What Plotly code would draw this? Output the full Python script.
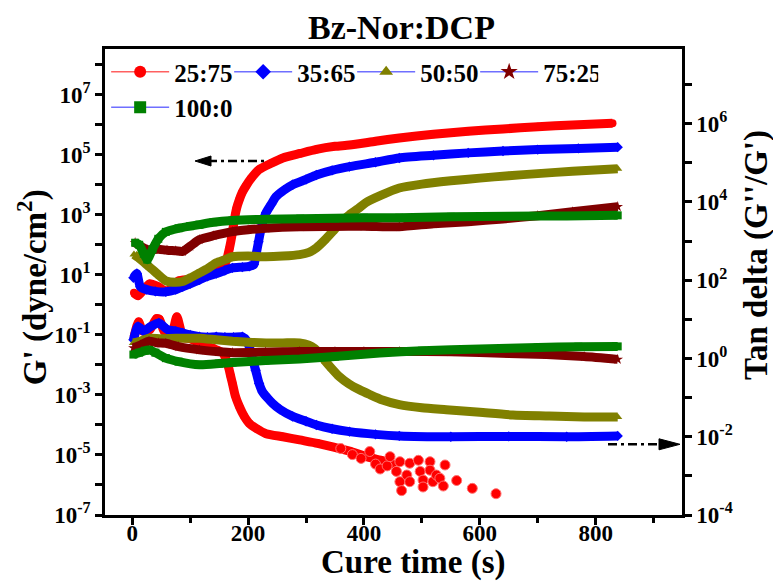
import plotly.graph_objects as go

# ---------------- data ----------------
# G' (left axis, dyne/cm^2)
t_gp_2575 = [3, 10, 20, 30, 45, 60, 80, 100, 120, 140, 155, 163, 168, 172, 176, 180, 185, 190, 196, 205,
             219, 240, 260, 290, 318, 350, 375, 420, 461, 520, 580, 640, 700, 760, 829]
gp_2575 = [2.5, 2.0, 3.2, 5.0, 4.0, 2.8, 6.3, 7.1, 8.9, 11, 16, 32, 79, 200, 630, 1600, 3200, 5600, 8900, 1.6e4,
           3.2e4, 5.2e4, 7.8e4, 1.1e5, 1.5e5, 1.9e5, 2.1e5, 2.8e5, 3.6e5, 4.8e5, 6.0e5, 7.2e5, 8.5e5, 9.8e5, 1.12e6]

t_gp_3565 = [2, 8, 14, 25, 40, 58, 75, 87, 100, 116, 130, 145, 160, 173, 190, 202, 210, 214, 218, 222, 226, 231,
             240, 248, 262, 277, 300, 318, 345, 375, 420, 461, 520, 580, 640, 700, 770, 838]
gp_3565 = [7.9, 11, 4.0, 3.2, 2.8, 2.7, 3.2, 4.0, 5.0, 6.8, 8.9, 11, 14, 17, 18, 19, 22, 50, 126, 316, 631, 1175,
           2240, 3980, 6610, 1.0e4, 1.5e4, 2.1e4, 3.0e4, 4.0e4, 5.6e4, 7.8e4, 9.5e4, 1.15e5, 1.32e5, 1.48e5, 1.62e5, 1.78e5]

t_gp_5050 = [3, 15, 30, 45, 58, 75, 87, 100, 116, 130, 145, 160, 173, 200, 231, 260, 289, 305, 318, 332, 346, 360,
             375, 390, 403, 430, 461, 500, 550, 600, 650, 700, 760, 838]
gp_5050 = [47, 32, 18, 10, 6.3, 5.6, 6.0, 7.9, 11.5, 16, 25, 32, 40, 42, 40, 42, 47, 56, 79, 141, 275, 562,
           1000, 1585, 2512, 4467, 7762, 1.05e4, 1.35e4, 1.66e4, 2.0e4, 2.34e4, 2.82e4, 3.39e4]

t_gp_7525 = [5, 15, 27, 45, 60, 75, 87, 100, 116, 140, 173, 200, 231, 290, 346, 400, 461, 520, 580, 640, 700, 760, 838]
gp_7525 = [117, 89, 68, 71, 66, 63, 60, 89, 148, 200, 275, 316, 355, 398, 407, 417, 400, 500, 589, 724, 933, 1259, 1862]

t_gp_1000 = [5, 12, 20, 26, 35, 45, 58, 80, 100, 116, 140, 173, 230, 290, 350, 400, 461, 550, 650, 750, 838]
gp_1000 = [117, 100, 50, 32, 71, 158, 269, 355, 417, 468, 562, 646, 708, 741, 759, 794, 794, 851, 891, 912, 955]

# Tan delta (right axis)
t_td_2575 = [3, 11, 18, 30, 42, 47, 55, 68, 77, 88, 100, 116, 140, 156, 162, 166, 170, 173, 178, 185, 193, 202,
             215, 231, 260, 289, 320, 346, 375, 404, 430, 450]
td_2575 = [3.5, 8.7, 5.0, 5.4, 10.5, 10.0, 5.0, 4.2, 11.7, 3.5, 3.2, 2.5, 1.8, 1.4, 0.95, 0.62, 0.35, 0.23, 0.11,
           0.059, 0.034, 0.022, 0.016, 0.012, 0.010, 0.0083, 0.0068, 0.0055, 0.0043, 0.0031, 0.0025, 0.0020]
t_td_2575_tail = [360, 380, 395, 410, 420, 428, 440, 445, 456, 462, 462, 465, 474, 479, 479, 494, 497, 502, 502,
                  514, 514, 519, 525, 531, 537, 540, 560, 587, 628]
td_2575_tail = [0.005, 0.0035, 0.0028, 0.0042, 0.002, 0.0015, 0.0018, 0.0031, 0.0013, 0.0023, 0.00071, 0.00042,
                0.00105, 0.0021, 0.00071, 0.0025, 0.0013, 0.00078, 0.00052, 0.0023, 0.0014, 0.00071, 0.00105,
                0.00087, 0.00055, 0.0019, 0.00076, 0.00048, 0.00035]

t_td_3565 = [2, 10, 20, 30, 46, 60, 75, 87, 100, 116, 130, 145, 160, 175, 190, 198, 204, 208, 213, 219, 225, 233,
             242, 255, 277, 300, 318, 345, 375, 420, 461, 550, 650, 750, 838]
td_3565 = [3.0, 6.6, 5.0, 6.3, 8.1, 5.6, 5.0, 4.5, 4.0, 3.6, 3.5, 3.6, 3.5, 3.5, 3.6, 2.8, 1.6, 0.93, 0.5, 0.23,
           0.14, 0.1, 0.072, 0.05, 0.033, 0.025, 0.02, 0.016, 0.0135, 0.0115, 0.0105, 0.010, 0.0102, 0.010, 0.0105]

t_td_5050 = [2, 15, 29, 50, 75, 100, 116, 145, 173, 200, 231, 260, 289, 305, 315, 325, 334, 345, 357, 375, 392,
             410, 432, 461, 500, 542, 600, 657, 720, 780, 838]
td_5050 = [2.5, 2.8, 3.3, 3.2, 3.3, 3.3, 3.3, 3.0, 2.75, 2.6, 2.5, 2.5, 2.5, 2.2, 1.8, 1.26, 0.83, 0.54, 0.35,
           0.22, 0.16, 0.12, 0.087, 0.066, 0.055, 0.049, 0.042, 0.036, 0.034, 0.032, 0.032]

t_td_7525 = [2, 15, 29, 45, 58, 80, 116, 150, 173, 230, 289, 350, 400, 461, 550, 650, 715, 780, 838]
td_7525 = [1.86, 2.24, 2.75, 2.5, 2.45, 2.0, 1.66, 1.48, 1.41, 1.45, 1.51, 1.51, 1.51, 1.51, 1.48, 1.35, 1.26, 1.12, 0.95]

t_td_1000 = [2, 12, 22, 29, 40, 58, 80, 116, 150, 173, 230, 289, 350, 427, 500, 600, 700, 770, 838]
td_1000 = [1.26, 1.41, 1.58, 1.66, 1.41, 1.02, 0.83, 0.69, 0.74, 0.79, 0.89, 0.97, 1.12, 1.38, 1.58, 1.74, 1.91, 2.0, 2.04]

series_names = ["25:75", "35:65", "50:50", "75:25", "100:0"]
x_tickvals = [0, 200, 400, 600, 800]
x_minorvals = [100, 300, 500, 700, 900]
left_label_exps = [-7, -5, -3, -1, 1, 3, 5, 7]
left_minor_exps = [-6, -4, -2, 0, 2, 4, 6, 8]
right_label_exps = [-4, -2, 0, 2, 4, 6]
right_minor_exps = [-3, -1, 1, 3, 5, 7]

# ---------------- styles ----------------
colors = ["#ff0000", "#0000ff", "#808000", "#800000", "#008000"]
symbols = ["circle", "diamond", "triangle-up", "star", "square"]
legend_line_colors = ["#ff6060", "#6f6fff", "#6f6fff", "#6f6fff", "#6f6fff"]
FONT = "Liberation Serif"

gp_t = [t_gp_2575, t_gp_3565, t_gp_5050, t_gp_7525, t_gp_1000]
gp_v = [gp_2575, gp_3565, gp_5050, gp_7525, gp_1000]
td_t = [t_td_2575, t_td_3565, t_td_5050, t_td_7525, t_td_1000]
td_v = [td_2575, td_3565, td_5050, td_7525, td_1000]

fig = go.Figure()

# legend entries
for name, c, s, lc in zip(series_names, colors, symbols, legend_line_colors):
    fig.add_trace(go.Scatter(x=[None], y=[None], mode="lines+markers", name=name,
                             line=dict(color=lc, width=1.5),
                             marker=dict(symbol=s, color=c, size=12 if s != "star" else 13)))

# tan delta bands (right axis)
for i in range(5):
    fig.add_trace(go.Scatter(x=td_t[i], y=td_v[i], yaxis="y2", mode="lines+markers", showlegend=False,
                             line=dict(color=colors[i], width=9, shape="spline", smoothing=0.6),
                             marker=dict(symbol=symbols[i], color=colors[i], size=8)))
fig.add_trace(go.Scatter(x=t_td_2575_tail, y=td_2575_tail, yaxis="y2", mode="markers", showlegend=False,
                         marker=dict(symbol="circle", color=colors[0], size=10,
                                     line=dict(color="#ff7070", width=1))))

# G' bands (left axis)
for i in range(5):
    fig.add_trace(go.Scatter(x=gp_t[i], y=gp_v[i], mode="lines+markers", showlegend=False,
                             line=dict(color=colors[i], width=9, shape="spline", smoothing=0.6),
                             marker=dict(symbol=symbols[i], color=colors[i], size=8)))


def sup(e):
    return "10<sup>%d</sup>" % e


tickfont = dict(family=FONT, size=23, color="black", weight="bold")
common = dict(ticks="outside", ticklen=7, tickwidth=2.5, tickcolor="black", automargin=False,
              showline=True, linewidth=2.5, linecolor="black", showgrid=False, zeroline=False,
              tickfont=tickfont)

fig.update_layout(
    width=773, height=582,
    margin=dict(l=105, r=91, t=49, b=67, autoexpand=False),
    paper_bgcolor="white", plot_bgcolor="white",
    showlegend=True,
    legend=dict(orientation="h", x=0.002, y=1.0, xanchor="left", yanchor="top",
                font=dict(family=FONT, size=25, color="black", weight="bold"),
                itemwidth=58, entrywidth=50, entrywidthmode="pixels", bgcolor="rgba(0,0,0,0)",
                itemclick=False, tracegroupgap=0),
    xaxis=dict(range=[-47, 949], tickvals=x_tickvals, mirror=True, ticklabelstandoff=-11,
               minor=dict(tickvals=x_minorvals, ticks="outside", ticklen=5, tickwidth=2.5,
                          tickcolor="black", showgrid=False),
               **common),
    yaxis=dict(type="log", range=[-7, 8.52],
               tickvals=[10.0 ** e for e in left_label_exps],
               ticktext=[sup(e) for e in left_label_exps],
               minor=dict(tickvals=[10.0 ** e for e in left_minor_exps], ticks="outside", ticklen=7,
                          tickwidth=2.5, tickcolor="black", showgrid=False),
               **common),
    yaxis2=dict(type="log", range=[-4, 7.91], overlaying="y", side="right",
                tickvals=[10.0 ** e for e in right_label_exps],
                ticktext=[sup(e) for e in right_label_exps],
                minor=dict(tickvals=[10.0 ** e for e in right_minor_exps], ticks="outside", ticklen=7,
                           tickwidth=2.5, tickcolor="black", showgrid=False),
                **common),
)

title_font = dict(family=FONT, size=34, color="black", weight="bold")
axis_title_font = dict(family=FONT, size=33, color="black", weight="bold")
fig.add_annotation(text="Bz-Nor:DCP", xref="paper", yref="paper", x=0.5147, y=1.047,
                   showarrow=False, font=title_font, xanchor="center", yanchor="middle")
fig.add_annotation(text="Cure time (s)", xref="paper", yref="paper", x=0.534, y=-0.103,
                   showarrow=False, font=axis_title_font, xanchor="center", yanchor="middle", borderpad=0)
fig.add_annotation(text="G' (dyne/cm<sup>2</sup>)", xref="paper", yref="paper", x=-0.1265, y=0.489,
                   showarrow=False, font=axis_title_font, textangle=-90, xanchor="center", yanchor="middle")
fig.add_annotation(text="Tan delta (G''/G')", xref="paper", yref="paper", x=1.13, y=0.558,
                   showarrow=False, font=axis_title_font, textangle=-90, xanchor="center", yanchor="middle")

# dash-dot arrows (paper coordinates)
W, H = 577.0, 466.0
def px(x):
    return (x - 105) / W
def py(y):
    return (515 - y) / H

ya = 161
fig.add_shape(type="line", xref="paper", yref="paper", x0=px(208), x1=px(268), y0=py(ya), y1=py(ya),
              line=dict(color="black", width=2.5, dash="9px,4px,3px,4px"))
fig.add_shape(type="path", xref="paper", yref="paper",
              path="M %f %f L %f %f L %f %f Z" % (px(195), py(ya), px(211), py(ya - 5), px(211), py(ya + 5)),
              fillcolor="black", line=dict(color="black", width=1))
yb = 444.3
fig.add_shape(type="line", xref="paper", yref="paper", x0=px(608), x1=px(662), y0=py(yb), y1=py(yb),
              line=dict(color="black", width=2.5, dash="9px,4px,3px,4px"))
fig.add_shape(type="path", xref="paper", yref="paper",
              path="M %f %f L %f %f L %f %f Z" % (px(680), py(yb), px(659), py(yb - 5.5), px(659), py(yb + 5.5)),
              fillcolor="black", line=dict(color="black", width=1))

fig.write_html("out.html", config={"displayModeBar": False},
               post_script="document.body.style.margin='0px';document.body.style.overflow='hidden';")
